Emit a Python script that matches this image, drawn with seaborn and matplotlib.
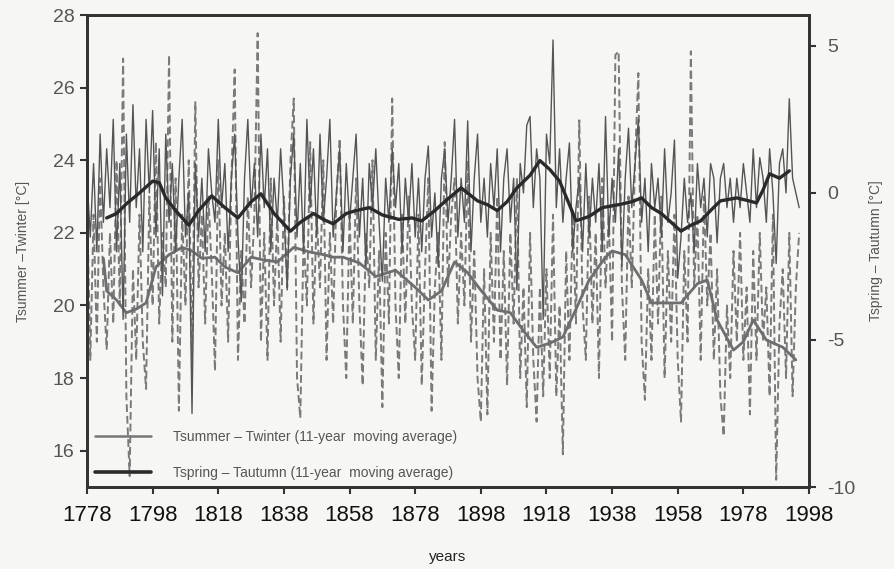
import numpy as np
import pandas as pd
import matplotlib
matplotlib.use("Agg")
import matplotlib.pyplot as plt
import seaborn as sns
from matplotlib.lines import Line2D

# ---------------- data ----------------
years = list(range(1778, 1996))

# Tsummer - Twinter, annual values (left axis, dashed)
sw_annual = [
    23.0, 18.5, 22.5, 19.0, 23.5, 20.5, 18.8, 22.0, 19.5, 24.0,   # 1778-1787
    20.0, 26.8, 17.5, 15.3, 21.0, 18.5, 22.5, 19.0, 17.7, 23.0,   # 1788-1797
    20.0, 24.5, 19.5, 22.0, 20.5, 26.9, 19.0, 23.5, 17.1, 22.5,   # 1798-1807
    20.0, 24.0, 18.5, 25.6, 20.5, 22.5, 19.5, 23.0, 21.0, 18.2,   # 1808-1817
    24.0, 20.0, 22.0, 19.0, 23.5, 26.5, 18.5, 21.5, 19.5, 23.0,   # 1818-1827
    20.5, 22.5, 27.5, 19.0, 22.0, 18.5, 23.5, 20.0, 22.5, 19.0,   # 1828-1837
    23.0, 20.5, 24.0, 25.7, 18.0, 16.9, 22.0, 20.0, 24.5, 19.5,   # 1838-1847
    22.5, 20.5, 24.0, 18.5, 22.0, 19.5, 23.0, 24.6, 20.0, 18.0,   # 1848-1857
    22.5, 19.5, 23.5, 20.0, 17.8, 22.0, 20.5, 24.0, 18.5, 21.5,   # 1858-1867
    17.2, 22.0, 19.5, 25.7, 20.0, 18.0, 22.5, 19.5, 23.0, 20.0,   # 1868-1877
    18.5, 22.5, 17.8, 21.0, 23.5, 17.1, 20.5, 22.0, 18.5, 24.5,   # 1878-1887
    20.5, 22.5, 23.5, 19.5, 22.0, 20.0, 24.0, 19.0, 21.5, 18.0,   # 1888-1897
    16.8, 21.0, 17.0, 22.0, 19.0, 23.0, 18.5, 21.5, 17.8, 22.0,   # 1898-1907
    19.5, 23.5, 18.0, 20.5, 17.2, 22.0, 18.5, 16.8, 20.5, 17.5,   # 1908-1917
    21.0, 18.0, 22.5, 17.5, 20.0, 15.9, 21.5, 18.5, 22.5, 19.5,   # 1918-1927
    25.1, 20.0, 18.5, 23.0, 19.5, 22.0, 18.0, 23.5, 20.5, 22.5,   # 1928-1937
    19.0, 26.9, 27.0, 20.5, 18.5, 23.0, 20.5, 24.0, 26.4, 19.0,   # 1938-1947
    17.4, 21.0, 18.5, 22.5, 19.5, 23.0, 18.0, 21.5, 19.0, 22.5,   # 1948-1957
    18.5, 16.8, 21.5, 19.0, 27.0, 20.5, 22.5, 18.5, 23.0, 20.0,   # 1958-1967
    22.0, 18.5, 21.0, 17.5, 16.4, 20.0, 18.0, 21.5, 19.0, 22.0,   # 1968-1977
    18.5, 20.5, 17.0, 21.5, 18.5, 22.0, 19.0, 20.5, 17.5, 22.5,   # 1978-1987
    15.2, 19.5, 21.0, 18.0, 22.0, 17.5, 20.5, 22.0,               # 1988-1995
]

# Tspring - Tautumn, annual values (right axis, solid)
sa_annual = [
    0.5, -1.5, 1.0, -2.0, 2.0, -1.0, 1.5, -0.5, 2.5, -2.0,        # 1778-1787
    1.0, -4.3, 2.0, -1.0, 3.0, -0.5, 1.5, -2.0, 2.5, 0.0,         # 1788-1797
    2.8, -1.5, 1.5, -3.5, 2.0, -1.0, 1.0, -2.0, 0.5, 2.5,         # 1798-1807
    -1.5, 0.0, -7.5, 1.0, -1.5, 0.5, -2.0, 1.5, 0.0, -1.0,        # 1808-1817
    2.5, -0.5, 1.0, -2.0, 0.5, 2.0, -1.5, -3.7, 0.5, 2.5,         # 1818-1827
    -0.5, 1.0, -1.5, 2.0, -0.5, 1.5, -2.0, 0.5, -1.0, 1.5,        # 1828-1837
    -0.5, -3.3, 0.5, 2.0, -1.5, 1.0, -2.0, 2.5, -0.5, 1.5,        # 1838-1847
    -1.5, 2.0, -1.0, 0.5, 2.5, -1.5, 0.0, 1.5, -2.0, 1.0,         # 1848-1857
    -1.0, 0.5, 2.0, -1.5, 0.5, -2.5, 1.0, -0.5, 1.5, -1.0,        # 1858-1867
    -3.0, 0.5, -1.0, 1.5, -0.5, 1.0, -2.0, 0.5, -1.0, 1.0,        # 1868-1877
    -1.5, 0.5, -2.0, 0.5, 1.6, -1.5, 0.0, -2.5, 0.5, 1.5,         # 1878-1887
    -1.0, 0.5, 2.5, -1.5, 0.5, -1.0, 2.45, -2.0, 0.5, 2.0,        # 1888-1897
    -1.0, 0.5, -1.5, 1.0, -0.5, 1.5, -2.0, 0.5, 1.5, -1.0,        # 1898-1907
    0.5, -3.3, 1.0, 0.0, 2.3, 2.6, -0.5, 1.5, 0.5, -4.3,          # 1908-1917
    2.0, 1.0, 5.2, -0.5, 1.5, -1.0, 0.5, 1.7, -2.0, -0.5,         # 1918-1927
    0.5, -2.0, 1.0, -1.5, 0.5, -1.0, 1.0, -2.0, 2.6, -1.5,        # 1928-1937
    0.5, -1.0, 1.5, -2.5, 0.5, 2.2, -0.5, 1.0, 2.5, -1.0,         # 1938-1947
    0.5, -2.0, 1.0, -0.5, 0.5, -1.5, 1.5, -1.0, 0.0, 1.8,         # 1948-1957
    -2.9, -1.5, 0.5, -1.0, 0.0, -2.0, 1.0, -0.5, 0.5, -1.5,       # 1958-1967
    1.0, 0.5, -1.7, 0.5, 1.0, -0.5, 0.5, -1.0, 0.5, -0.5,         # 1968-1977
    1.0, 0.0, -1.0, 1.5, -0.5, 1.2, 0.5, -1.0, 1.5, 0.0,          # 1978-1987
    -2.4, 1.0, 1.5, 0.0, 3.2, 0.5, 0.0, -0.5,                     # 1988-1995
]

# 11-year moving averages
sw_ma_years = [1783, 1784, 1787, 1790, 1793, 1796, 1799, 1803, 1807, 1810,
               1813, 1817, 1820, 1824, 1828, 1832, 1836, 1841, 1846, 1850,
               1853, 1856, 1861, 1866, 1872, 1878, 1882, 1886, 1890, 1894,
               1898, 1903, 1907, 1911, 1915, 1919, 1923, 1927, 1931, 1936,
               1938, 1942, 1947, 1950, 1955, 1959, 1964, 1967, 1970, 1975,
               1978, 1981, 1985, 1990, 1994]
sw_ma = [21.3, 20.4, 20.15, 19.8, 19.9, 20.07, 21.06, 21.4, 21.6, 21.5,
         21.3, 21.33, 21.06, 20.9, 21.33, 21.25, 21.2, 21.6, 21.47, 21.4,
         21.33, 21.33, 21.17, 20.8, 20.97, 20.5, 20.15, 20.4, 21.2, 20.9,
         20.42, 19.87, 19.8, 19.3, 18.85, 18.96, 19.13, 19.9, 20.7, 21.33,
         21.5, 21.4, 20.7, 20.07, 20.07, 20.07, 20.6, 20.7, 19.6, 18.77,
         19.0, 19.6, 19.05, 18.85, 18.5]

sa_ma_years = [1784, 1787, 1790, 1794, 1798, 1800, 1802, 1805, 1809, 1812,
               1816, 1820, 1824, 1828, 1831, 1835, 1840, 1843, 1847, 1850,
               1853, 1857, 1860, 1864, 1868, 1873, 1877, 1880, 1884, 1888,
               1892, 1897, 1900, 1903, 1906, 1909, 1913, 1916, 1919, 1922,
               1925, 1927, 1931, 1935, 1940, 1944, 1947, 1950, 1953, 1956,
               1959, 1962, 1965, 1968, 1971, 1976, 1979, 1982, 1984, 1986,
               1989, 1992]
sa_ma = [-0.85, -0.7, -0.37, 0.0, 0.4, 0.35, -0.17, -0.6, -1.1, -0.6,
         -0.1, -0.5, -0.85, -0.3, -0.03, -0.7, -1.3, -1.0, -0.7, -0.9,
         -1.05, -0.7, -0.6, -0.5, -0.75, -0.9, -0.85, -0.95, -0.6, -0.2,
         0.17, -0.27, -0.4, -0.6, -0.3, 0.17, 0.6, 1.1, 0.8, 0.4,
         -0.4, -0.95, -0.8, -0.5, -0.4, -0.3, -0.17, -0.5, -0.7, -1.0,
         -1.3, -1.1, -0.95, -0.6, -0.27, -0.17, -0.25, -0.34, 0.1, 0.65,
         0.5, 0.75]

x_ticks = [1778, 1798, 1818, 1838, 1858, 1878, 1898, 1918, 1938, 1958, 1978, 1998]
left_ticks = [16, 18, 20, 22, 24, 26, 28]
right_ticks = [-10, -5, 0, 5]

# ---------------- style ----------------
sns.set_theme(style="ticks")
plt.rcParams["font.family"] = ["Liberation Sans", "DejaVu Sans"]

bg = "#f6f6f4"
fig = plt.figure(figsize=(8.94, 5.69), dpi=100, facecolor=bg)
ax = fig.add_axes([87 / 894, 1 - 487 / 569, (809 - 87) / 894, (487 - 15) / 569])
ax.set_facecolor(bg)
ax2 = ax.twinx()

df_sw = pd.DataFrame({"year": years, "value": sw_annual})
df_sa = pd.DataFrame({"year": years, "value": sa_annual})
df_swma = pd.DataFrame({"year": sw_ma_years, "value": sw_ma})
df_sama = pd.DataFrame({"year": sa_ma_years, "value": sa_ma})

# annual Tsummer-Twinter (dashed, left axis)
sns.lineplot(data=df_sw, x="year", y="value", ax=ax, color="#7a7a7a",
             linewidth=1.4, linestyle=(0, (4, 2)), legend=False)
# annual Tspring-Tautumn (solid, right axis)
sns.lineplot(data=df_sa, x="year", y="value", ax=ax2, color="#555555",
             linewidth=1.0, legend=False)
# moving averages
sns.lineplot(data=df_swma, x="year", y="value", ax=ax, color="#6e6e6e",
             linewidth=2.0, legend=False)
sns.lineplot(data=df_sama, x="year", y="value", ax=ax2, color="#2a2a2a",
             linewidth=2.4, legend=False)

ax.set_xlim(1778, 1998)
ax.set_ylim(15, 28)
ax2.set_ylim(-10, 6.05)

ax.set_xticks(x_ticks)
ax.set_xticklabels([str(t) for t in x_ticks], fontsize=16, color="#111111")
ax.set_yticks(left_ticks)
ax.set_yticklabels([str(t) for t in left_ticks], fontsize=14, color="#555555")
ax2.set_yticks(right_ticks)
ax2.set_yticklabels([str(t) for t in right_ticks], fontsize=14, color="#555555")

ax.tick_params(axis="x", direction="out", length=5, width=1.5, color="#333333", pad=8)
ax.tick_params(axis="y", direction="out", length=5, width=1.5, color="#333333", pad=4)
ax2.tick_params(axis="y", direction="out", length=5, width=1.5, color="#333333", pad=8)

for a in (ax, ax2):
    for s in a.spines.values():
        s.set_visible(True)
        s.set_color("#333333")
        s.set_linewidth(2.0)

ax.set_xlabel("years", fontsize=11, color="#222222", labelpad=17)
ax.set_ylabel("Tsummer \u2013Twinter [\u00b0C]", fontsize=10, color="#555555", labelpad=16)
ax2.set_ylabel("Tspring \u2013 Tautumn [\u00b0C]", fontsize=10, color="#555555",
               rotation=90, labelpad=10)

handles = [Line2D([], [], color="#777777", linewidth=1.8),
           Line2D([], [], color="#2a2a2a", linewidth=2.6)]
labels = ["Tsummer \u2013 Twinter (11-year  moving average)",
          "Tspring \u2013 Tautumn (11-year  moving average)"]
leg = ax.legend(handles, labels, loc="lower left", bbox_to_anchor=(0.0, -0.003),
                frameon=False, fontsize=10, handlelength=4.0, handletextpad=1.6,
                labelspacing=1.6, borderaxespad=0.2)
for t in leg.get_texts():
    t.set_color("#555555")

fig.savefig("out.png", dpi=100, facecolor=bg)
